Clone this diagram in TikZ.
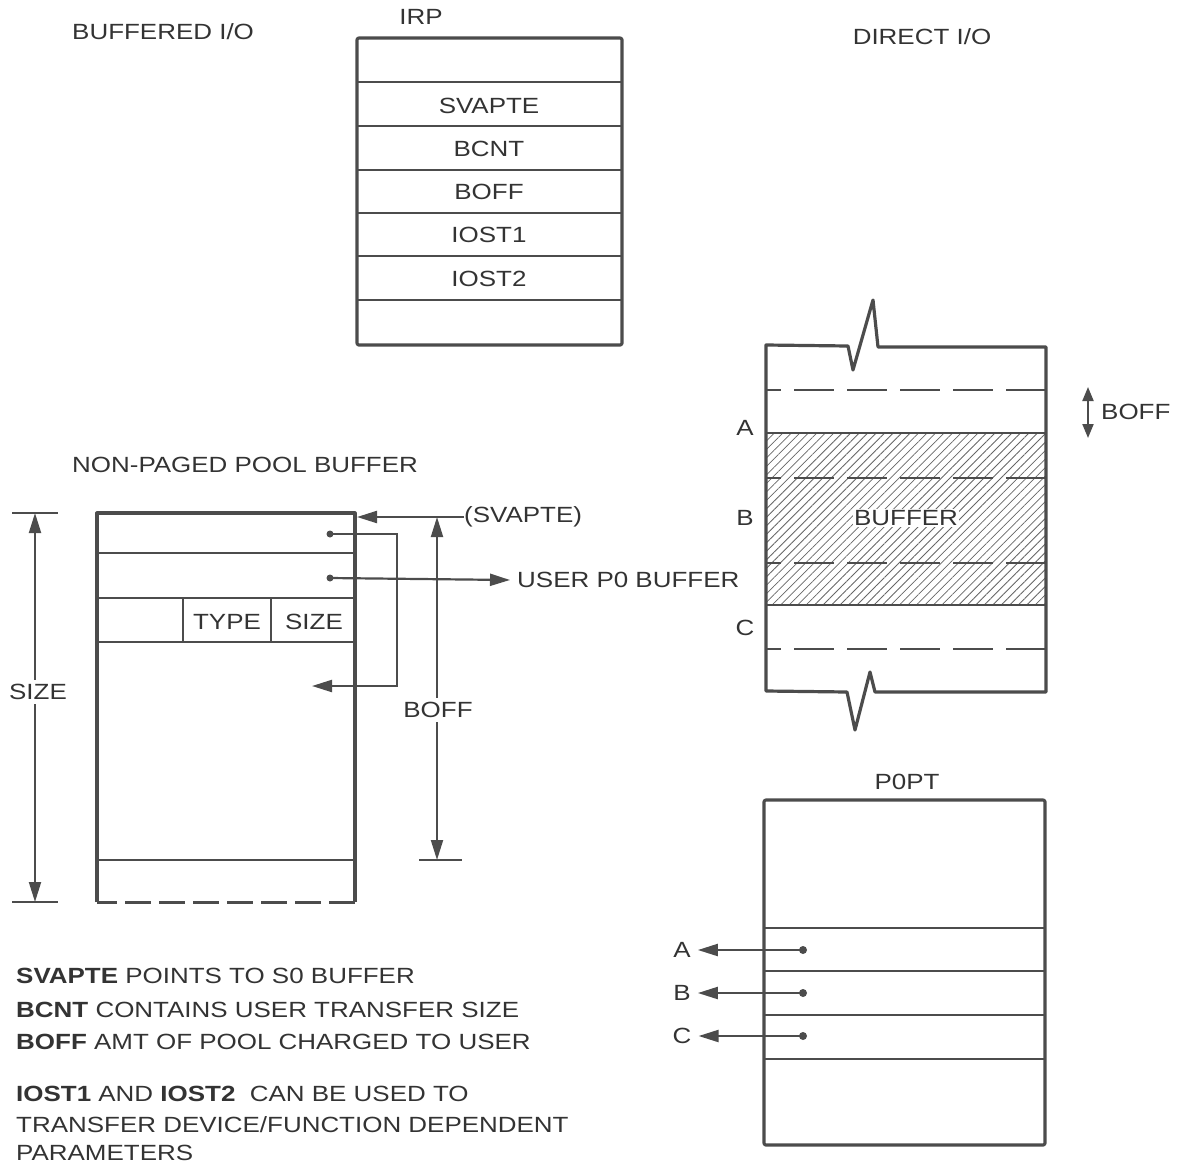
\documentclass[tikz,border=0pt]{standalone}
\usepackage{fontspec}
\setmainfont{Liberation Sans}[FakeStretch=1.18]
\usepackage{tikz}
\usetikzlibrary{arrows.meta,patterns.meta}

\begin{document}
\begin{tikzpicture}[x=1pt,y=-1pt,>={Triangle[length=20pt,width=12pt]},
  every node/.style={font=\fontsize{22}{26}\selectfont,text=black!80,inner sep=1pt},
  box/.style={line width=3.2pt,draw=black!70,line join=round,rounded corners=2pt},
  row/.style={line width=2.4pt,draw=black!70},
  cut/.style={row,dash pattern=on 40pt off 13pt,dash phase=25pt},
  ptr/.style={line width=2.2pt,draw=black!70,->},
  dim/.style={line width=2pt,draw=black!70,<->},
  dot/.style={circle,fill=black!70,inner sep=0pt,minimum size=7pt}]
\useasboundingbox (0,0) rectangle (1178,1165);

% 1. headings
\node[anchor=west] (hbuf) at (71,32) {BUFFERED I/O};
\node (hirp) at (421,17) {IRP};
\node (hdir) at (922,37) {DIRECT I/O};
\node[anchor=west] (hpool) at (71,465) {NON-PAGED POOL BUFFER};

% 2. IRP
\draw[box] (357,38) rectangle (622,345);
\foreach \y in {82,126,170,213,256,300}{\draw[row] (357,\y)--(622,\y);}
\node (irpsv) at (489,106) {SVAPTE};
\node (irpbc) at (489,149) {BCNT};
\node (irpbo) at (489,192) {BOFF};
\node (irpi1) at (489,235) {IOST1};
\node (irpi2) at (489,279) {IOST2};

% 3. non-paged pool buffer
\draw[box,rounded corners=0pt] (97,902)--(97,513)--(355,513)--(355,902);
\draw[row,line width=3pt,dash pattern=on 26pt off 8pt,dash phase=6pt] (97,902)--(355,902);
\foreach \y in {553,598,642,860}{\draw[row] (97,\y)--(355,\y);}
\draw[row] (183,598)--(183,642);
\draw[row] (271,598)--(271,642);
\node (ptype) at (227,622) {TYPE};
\node (psize) at (314,622) {SIZE};
\node[dot] (d1) at (330,534) {};
\node[dot] (d2) at (330,578) {};
\coordinate (bret) at (312,686);
\draw[ptr] (d1.center)--(397,534)--(397,686)--(bret);
\node[anchor=west] (usr) at (516,580) {USER P0 BUFFER};
\draw[ptr] (d2.center)--([xshift=-6pt]usr.west);
\node[anchor=west,inner sep=0pt] (svp) at (464,517) {(SVAPTE)};
\coordinate (ptop) at (357,517);
\draw[ptr] (svp.west)--(ptop);

% dimensions
\coordinate (bofft) at (437,517);
\coordinate (boffb) at (437,860);
\draw[dim] (bofft)--(boffb);
\draw[row] (419,860)--(462,860);
\node[fill=white,inner sep=4pt] (boff) at (438,710) {BOFF};
\coordinate (sizet) at (35,513);
\coordinate (sizeb) at (35,902);
\draw[dim] (sizet)--(sizeb);
\draw[row] (12,513)--(58,513);
\draw[row] (12,902)--(58,902);
\node[fill=white,inner sep=4pt] (sz) at (38,692) {SIZE};

% 4. notes
\node[anchor=west] (n1) at (15,976) {\textbf{SVAPTE} POINTS TO S0 BUFFER};
\node[anchor=west] (n2) at (15,1010) {\textbf{BCNT} CONTAINS USER TRANSFER SIZE};
\node[anchor=west] (n3) at (15,1042) {\textbf{BOFF} AMT OF POOL CHARGED TO USER};
\node[anchor=west] (n4) at (15,1094) {\textbf{IOST1} AND \textbf{IOST2}\ \ CAN BE USED TO};
\node[anchor=west] (n5) at (15,1125) {TRANSFER DEVICE/FUNCTION DEPENDENT};
\node[anchor=west] (n6) at (15,1153) {PARAMETERS};

% 5. direct I/O user buffer
\fill[pattern={Lines[angle=45,distance=6pt,line width=0.8pt]},pattern color=black!60] (766,433) rectangle (1046,605);
\draw[row] (766,433)--(1046,433);
\draw[row] (766,605)--(1046,605);
\foreach \y in {390,478,563,649}{\draw[cut] (766,\y)--(1046,\y);}
\draw[box,rounded corners=0pt] (766,345)--(848,346)--(853,370)--(873,300)--(878,347)--(1046,347)
  --(1046,692)--(875,692)--(870,672)--(855,730)--(847,692)--(766,691)--cycle;
\node[fill=white,inner sep=1pt] (buf) at (906,518) {BUFFER};
\node (la) at (745,428) {A};
\node (lb) at (745,518) {B};
\node (lc) at (745,628) {C};
\coordinate (bofa) at (1088,387);
\coordinate (bofb) at (1088,438);
\draw[line width=2pt,draw=black!70,{Triangle[length=14pt,width=11pt]}-{Triangle[length=14pt,width=11pt]}] (bofa)--(bofb);
\node[anchor=west] (boff2) at (1100,412) {BOFF};

% 6. P0PT
\node (hpt) at (907,782) {P0PT};
\draw[box] (764,800) rectangle (1045,1145);
\foreach \y in {928,971,1015,1059}{\draw[row] (764,\y)--(1045,\y);}
\foreach \n/\y in {A/950,B/993,C/1036}{
  \node[dot,minimum size=8pt] (p\n) at (803,\y) {};
  \node (q\n) at (682,\y) {\n};
  \draw[ptr] (p\n.center)--([xshift=6pt]q\n.east);
}
\end{tikzpicture}
\end{document}
